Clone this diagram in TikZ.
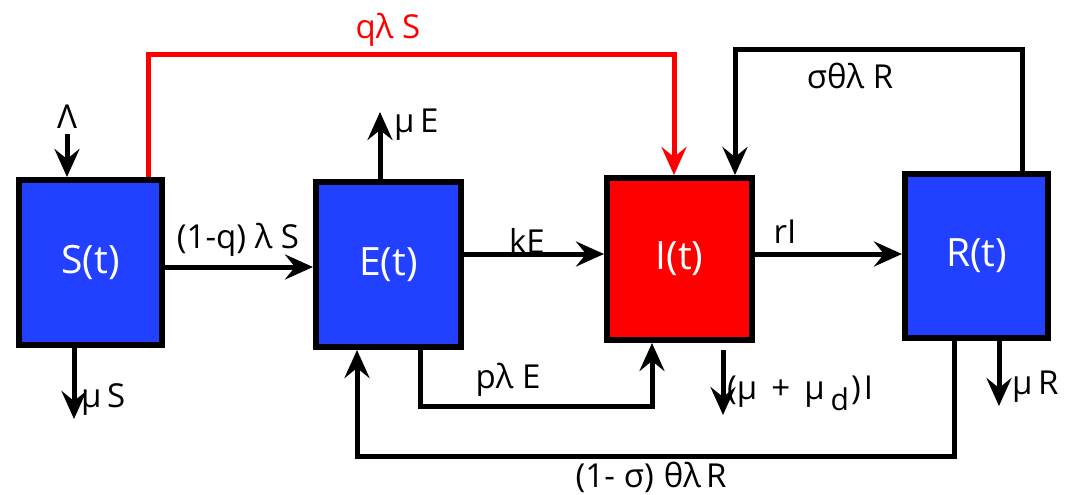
\documentclass[tikz,border=0pt]{standalone}
\usepackage{fontspec}
\setmainfont{Open Sans}
\usetikzlibrary{arrows.meta}
\definecolor{boxblue}{RGB}{34,64,255}
\definecolor{boxred}{RGB}{255,0,0}
\begin{document}
\begin{tikzpicture}[x=1pt,y=-1pt,
  comp/.style={draw=black,line width=6pt,text=white,font=\fontsize{39}{39}\selectfont,inner sep=0pt},
  arr/.style={line width=5pt,-{Stealth[length=28pt,width=25pt,inset=10pt]}},
  lab/.style={font=\fontsize{33}{33}\selectfont,inner sep=0pt}]
\useasboundingbox (0,0) rectangle (1074,495);
% compartments
\node[comp,fill=boxblue,minimum width=143pt,minimum height=165pt] (S) at (90.5,262.5) {S(t)};
\node[comp,fill=boxblue,minimum width=145pt,minimum height=165pt] (E) at (388.5,264.5) {E(t)};
\node[comp,fill=boxred,minimum width=145pt,minimum height=162pt] (I) at (679.5,259) {I(t)};
\node[comp,fill=boxblue,minimum width=143pt,minimum height=164pt] (R) at (976.5,256) {R(t)};
% free ends and corners
\coordinate (L) at (67,134);
\coordinate (mE) at (380,112);
\coordinate (mS) at (74,419);
\coordinate (mI0) at (723,350);
\coordinate (mI) at (723,415);
\coordinate (mR) at (999,406);
\coordinate (r1) at (148,55);
\coordinate (r2) at (674,55);
\coordinate (b1) at (1022,50);
\coordinate (b2) at (735,50);
\coordinate (p1) at (420,406);
\coordinate (p2) at (652,406);
\coordinate (q1) at (954,456);
\coordinate (q2) at (357,456);
\coordinate (hSE) at (0,267);
\coordinate (hEI) at (0,254);
\coordinate (hIR) at (0,254);
% flows
\draw[arr] (S.east |- hSE) -- (E.west |- hSE);
\draw[arr] (E.east |- hEI) -- (I.west |- hEI);
\draw[arr] (I.east |- hIR) -- (R.west |- hIR);
\draw[arr] (L) -- (L |- S.north);
\draw[arr] (mE |- E.north) -- (mE);
\draw[arr] (mS |- S.south) -- (mS);
\draw[arr] (mI0) -- (mI);
\draw[arr] (mR |- R.south) -- (mR);
\draw[arr,draw=boxred,color=boxred] (r1 |- S.north) -- (r1) -- (r2) -- (r2 |- I.north);
\draw[arr] (b1 |- R.north) -- (b1) -- (b2) -- (b2 |- I.north);
\draw[arr] (p1 |- E.south) -- (p1) -- (p2) -- (p2 |- I.south);
\draw[arr] (q1 |- R.south) -- (q1) -- (q2) -- (q2 |- E.south);
% labels
\node[lab] (tSE) at (238,240) {(1-q) λ S};
\node[lab] (tEI) at (527,241) {kE};
\node[lab] (tIR) at (785,232) {rI};
\node[lab,text=boxred] (tq) at (388,30) {qλ S};
\node[lab] (tL) at (67,117) {Λ};
\node[lab,anchor=west] (tmE) at (394,125) {μ\,E};
\node[lab] (tsig) at (850,76) {σθλ R};
\node[lab,anchor=west] (tmS) at (81,400) {μ\,S};
\node[lab] (tp) at (508,380) {pλ E};
\node[lab,anchor=west] (tmI) at (727,393) {(μ\hspace{14pt}+\hspace{14pt}μ\hspace{6pt}\raisebox{-11pt}{\fontsize{30}{30}\selectfont d}\hspace{2pt})\hspace{3pt}I};
\node[lab,anchor=west] (tmR) at (1012,387) {μ\,R};
\node[lab] (tq2) at (651,477) {(1-\hspace{9pt}σ)\hspace{10pt}θλ\hspace{5pt}R};
\end{tikzpicture}
\end{document}
